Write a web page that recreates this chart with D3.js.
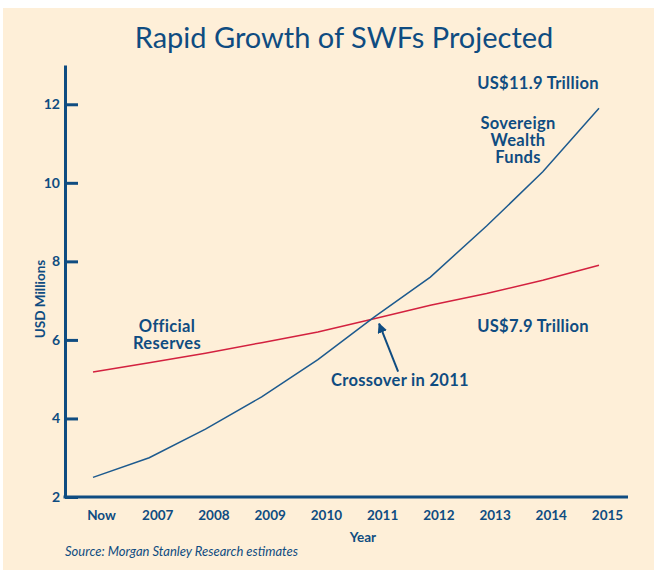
<!DOCTYPE html>
<html>
<head>
<meta charset="utf-8">
<script src="https://cdn.jsdelivr.net/npm/d3@7"></script>
<style>
  body { margin: 0; background: #fff; }
  text { font-family: Lato, "Open Sans", sans-serif; }
</style>
</head>
<body>
<svg width="654" height="573"></svg>
<script>
'use strict';
(() => {

var years = ['Now', '2007', '2008', '2009', '2010', '2011', '2012', '2013', '2014', '2015'];
var swf = [2.5, 3.0, 3.73, 4.55, 5.5, 6.58, 7.6, 8.9, 10.28, 11.9];
var reserves = [5.18, 5.42, 5.66, 5.93, 6.2, 6.54, 6.88, 7.18, 7.52, 7.9];
var yTicks = [2, 4, 6, 8, 10, 12];

var BLUE = '#0f4c81';
var svg = d3.select('svg');

svg.append('rect')
  .attr('x', 3).attr('y', 8)
  .attr('width', 651).attr('height', 562)
  .attr('fill', '#feefd8');

svg.append('text')
  .attr('x', 344).attr('y', 48)
  .attr('text-anchor', 'middle')
  .attr('font-size', 29)
  .attr('fill', BLUE)
  .text('Rapid Growth of SWFs Projected');

var left = 65, right = 628, bottom = 497;
var x = d3.scalePoint().domain(years).range([93, 599]);
var y = d3.scaleLinear().domain([2, 13]).range([bottom, 65]);

// y axis, ticks pointing inward
var ya = svg.append('g')
  .attr('transform', `translate(${left},0)`)
  .call(d3.axisLeft(y).tickValues(yTicks).tickSizeInner(-13).tickSizeOuter(0).tickPadding(5));
ya.select('.domain').attr('stroke', BLUE).attr('stroke-width', 3);
ya.selectAll('.tick line').attr('stroke', BLUE).attr('stroke-width', 3);
ya.selectAll('.tick text')
  .attr('fill', BLUE).attr('font-size', 14).attr('font-weight', 'bold');

// x axis
var xa = svg.append('g')
  .attr('transform', `translate(0,${bottom})`)
  .call(d3.axisBottom(x).tickSize(0).tickPadding(13));
xa.select('.domain').remove();
xa.selectAll('.tick text')
  .attr('dx', 8)
  .attr('fill', BLUE).attr('font-size', 13.5).attr('font-weight', 'bold');
svg.append('line')
  .attr('x1', left - 1.5).attr('x2', right)
  .attr('y1', bottom).attr('y2', bottom)
  .attr('stroke', BLUE).attr('stroke-width', 3);

svg.append('text')
  .attr('x', 363).attr('y', 542)
  .attr('text-anchor', 'middle')
  .attr('font-size', 13.5).attr('font-weight', 'bold')
  .attr('fill', BLUE)
  .text('Year');

svg.append('text')
  .attr('transform', 'translate(45,299) rotate(-90)')
  .attr('text-anchor', 'middle')
  .attr('font-size', 13.5).attr('font-weight', 'bold')
  .attr('fill', BLUE)
  .text('USD Millions');

svg.append('text')
  .attr('x', 65).attr('y', 556)
  .attr('font-size', 13).attr('font-style', 'italic')
  .attr('fill', BLUE)
  .text('Source: Morgan Stanley Research estimates');

// lines
var line = d3.line().x((d, i) => x(years[i])).y(d => y(d));
svg.append('path').datum(reserves)
  .attr('d', line).attr('fill', 'none')
  .attr('stroke', '#d3213f').attr('stroke-width', 1.5);
svg.append('path').datum(swf)
  .attr('d', line).attr('fill', 'none')
  .attr('stroke', '#1d5a8e').attr('stroke-width', 1.5);

// annotations
var labels = [
  {lines: ['US$11.9 Trillion'], x: 538, y: 89},
  {lines: ['Sovereign', 'Wealth', 'Funds'], x: 518, y: 129},
  {lines: ['Official', 'Reserves'], x: 167, y: 332},
  {lines: ['US$7.9 Trillion'], x: 533, y: 332},
  {lines: ['Crossover in 2011'], x: 400, y: 386}
];
labels.forEach(l => {
  var t = svg.append('text')
    .attr('text-anchor', 'middle')
    .attr('font-size', 16.5).attr('font-weight', 'bold')
    .attr('letter-spacing', 0.3)
    .attr('fill', BLUE);
  l.lines.forEach((s, i) => {
    t.append('tspan').attr('x', l.x).attr('y', l.y + i * 16.8).text(s);
  });
});

svg.append('defs').append('marker')
  .attr('id', 'arr')
  .attr('viewBox', '0 0 10 10')
  .attr('refX', 9).attr('refY', 5)
  .attr('markerWidth', 5).attr('markerHeight', 5)
  .attr('orient', 'auto')
  .append('path').attr('d', 'M0,0L10,5L0,10z').attr('fill', BLUE);

var cx = x('2011'), cy = y(reserves[5]);
svg.append('line')
  .attr('x1', cx + 24).attr('y1', cy + 53)
  .attr('x2', cx + 5).attr('y2', cy + 5)
  .attr('stroke', BLUE).attr('stroke-width', 2)
  .attr('marker-end', 'url(#arr)');

})();
</script>
</body>
</html>
